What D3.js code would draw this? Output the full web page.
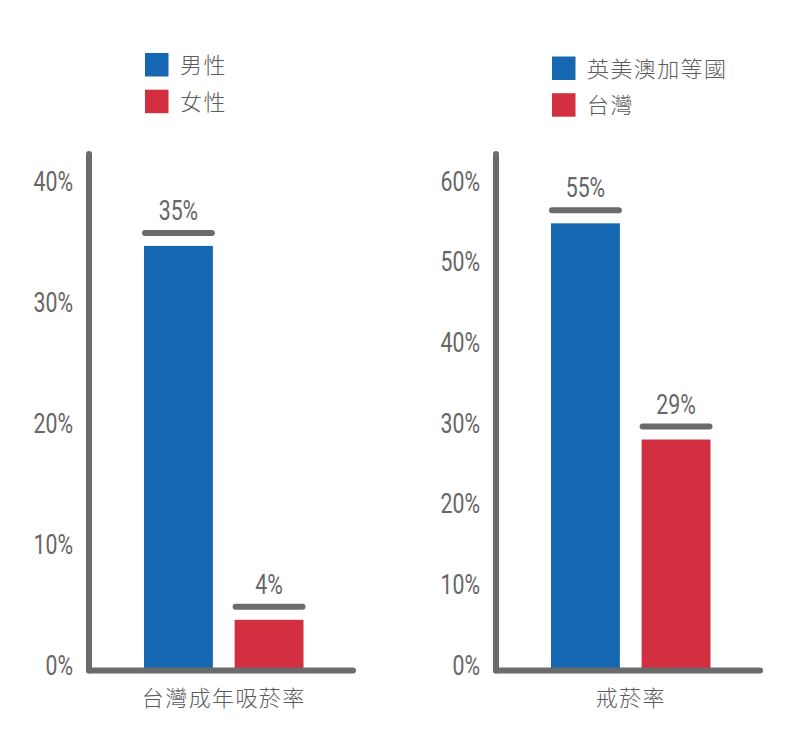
<!DOCTYPE html>
<html>
<head>
<meta charset="utf-8">
<script src="https://cdn.jsdelivr.net/npm/d3@7"></script>
<style>
  html, body { margin: 0; padding: 0; background: #ffffff; }
  svg { display: block; }
</style>
</head>
<body>
<svg id="chart" width="800" height="742"></svg>
<script>
// ---- Data ----
const chart1Categories = ["男性", "女性"];
const chart1Values = [34.8, 3.9];
const chart1Labels = ["35%", "4%"];
const chart1Ticks = [0, 10, 20, 30, 40];
const chart1Title = "台灣成年吸菸率";

const chart2Categories = ["英美澳加等國", "台灣"];
const chart2Values = [55, 28.2];
const chart2Labels = ["55%", "29%"];
const chart2Ticks = [0, 10, 20, 30, 40, 50, 60];
const chart2Title = "戒菸率";

const seriesColors = ["#1467b0", "#d22f40"];

// ---- Drawing ----
const svg = d3.select("#chart");
const GRAY = "#6b6b6b";
const NUM_GRAY = "#666666";
const NUM_FONT = "Roboto, 'Liberation Sans', sans-serif";
const CJK_FONT = "'Noto Sans CJK TC', 'Noto Sans CJK SC', sans-serif";
const NUM_SCALE = "scale(0.76,1)";

function drawPanel(opt) {
  const g = svg.append("g");
  const axisX = opt.axisX;
  const y = d3.scaleLinear()
    .domain([0, d3.max(opt.ticks)])
    .range([667, 183]);
  const x = d3.scaleBand()
    .domain(opt.categories)
    .range([axisX + 55, axisX + 214.5])
    .paddingInner(0.24)
    .paddingOuter(0);

  // legend
  const leg = g.append("g");
  opt.categories.forEach((c, i) => {
    const ly = opt.legendTop + i * 36.7;
    leg.append("rect")
      .attr("x", axisX + 56).attr("y", ly)
      .attr("width", 23.5).attr("height", 23.5)
      .attr("fill", seriesColors[i]);
    leg.append("text")
      .attr("x", axisX + 91).attr("y", ly + 20)
      .attr("font-family", CJK_FONT)
      .attr("font-size", 22)
      .attr("font-weight", 300)
      .attr("letter-spacing", 1.4)
      .attr("fill", "#5c5c5c")
      .text(c);
  });

  // y axis ticks
  const axis = d3.axisLeft(y)
    .tickValues(opt.ticks)
    .tickSize(0)
    .tickPadding(16)
    .tickFormat(d => d + "%");
  const ag = g.append("g")
    .attr("transform", `translate(${axisX},0)`)
    .call(axis);
  ag.select(".domain").remove();
  ag.selectAll("text")
    .attr("x", 0)
    .attr("dy", "0.26em")
    .attr("transform", "translate(-16,0) " + NUM_SCALE)
    .attr("font-family", NUM_FONT)
    .attr("font-weight", 400)
    .attr("font-size", 28)
    .attr("fill", NUM_GRAY);

  // bars
  const data = opt.categories.map((c, i) => ({ c, v: opt.values[i], label: opt.labels[i], color: seriesColors[i] }));
  g.selectAll(".bar").data(data).enter().append("rect")
    .attr("class", "bar")
    .attr("x", d => x(d.c))
    .attr("width", x.bandwidth())
    .attr("y", d => y(d.v))
    .attr("height", d => y(0) + 1 - y(d.v))
    .attr("fill", d => d.color);

  // value marker lines
  g.selectAll(".marker").data(data).enter().append("line")
    .attr("x1", d => x(d.c) + 1)
    .attr("x2", d => x(d.c) + x.bandwidth() - 1)
    .attr("y1", d => y(d.v) - 13)
    .attr("y2", d => y(d.v) - 13)
    .attr("stroke", GRAY)
    .attr("stroke-width", 6)
    .attr("stroke-linecap", "round");

  // value labels
  g.selectAll(".vlabel").data(data).enter().append("text")
    .attr("transform", d => `translate(${x(d.c) + x.bandwidth() / 2},${y(d.v) - 13 - 23}) ${NUM_SCALE}`)
    .attr("dy", "0.36em")
    .attr("text-anchor", "middle")
    .attr("font-family", NUM_FONT)
    .attr("font-weight", 400)
    .attr("font-size", 28)
    .attr("fill", NUM_GRAY)
    .text(d => d.label);

  // axis lines
  const baseY = y(0) + 3.5;
  g.append("line")
    .attr("x1", axisX).attr("x2", axisX)
    .attr("y1", y.range()[1] - 29).attr("y2", baseY)
    .attr("stroke", GRAY).attr("stroke-width", 6).attr("stroke-linecap", "round");
  g.append("line")
    .attr("x1", axisX).attr("x2", axisX + 264)
    .attr("y1", baseY).attr("y2", baseY)
    .attr("stroke", GRAY).attr("stroke-width", 6).attr("stroke-linecap", "round");

  // category title
  g.append("text")
    .attr("x", (x.range()[0] + x.range()[1]) / 2)
    .attr("y", 706)
    .attr("text-anchor", "middle")
    .attr("font-family", CJK_FONT)
    .attr("font-size", 22)
    .attr("font-weight", 300)
    .attr("letter-spacing", 1.4)
    .attr("fill", "#5c5c5c")
    .text(opt.title);
}

drawPanel({
  axisX: 89, legendTop: 53,
  categories: chart1Categories, values: chart1Values, labels: chart1Labels,
  ticks: chart1Ticks, title: chart1Title
});
drawPanel({
  axisX: 496, legendTop: 56.5,
  categories: chart2Categories, values: chart2Values, labels: chart2Labels,
  ticks: chart2Ticks, title: chart2Title
});
</script>
</body>
</html>
